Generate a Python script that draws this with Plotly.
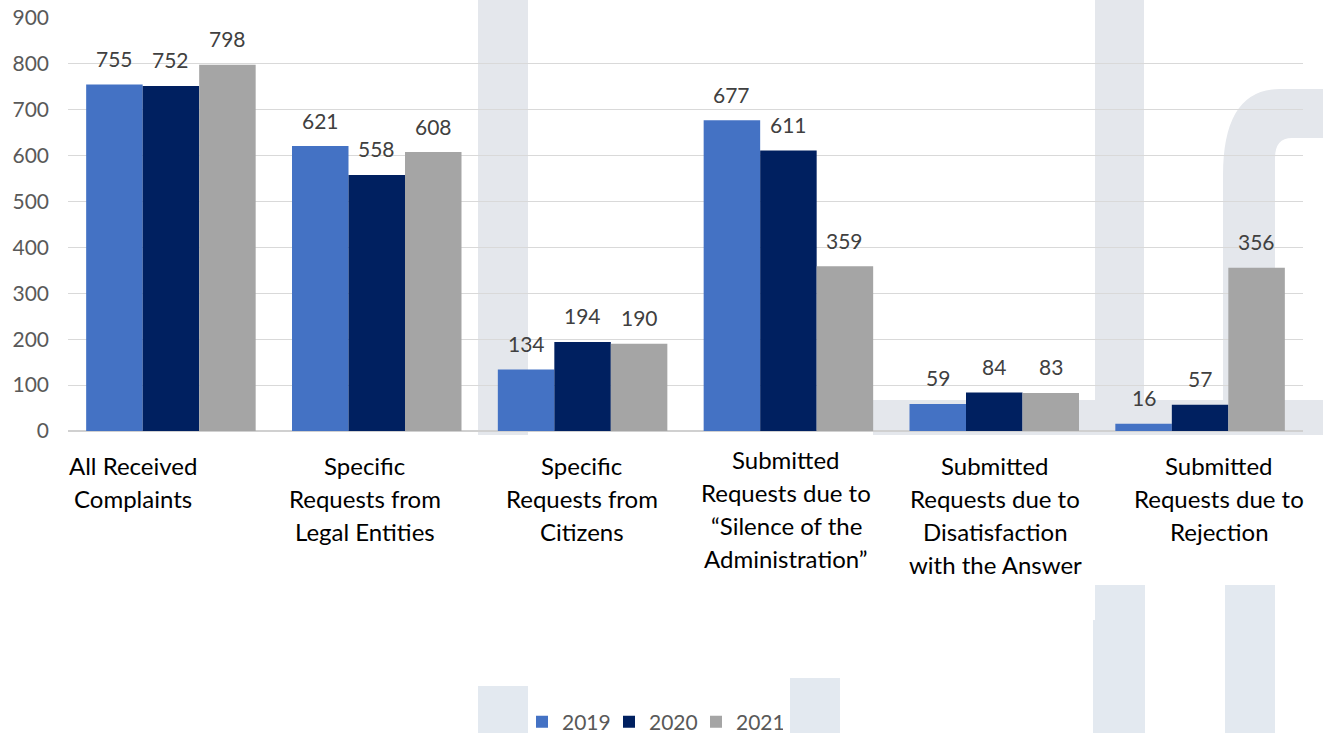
import plotly.graph_objects as go

# ---- data ----
categories = [
    "All Received<br>Complaints",
    "Specific<br>Requests from<br>Legal Entities",
    "Specific<br>Requests from<br>Citizens",
    "Submitted<br>Requests due to<br>“Silence of the<br>Administration”",
    "Submitted<br>Requests due to<br>Disatisfaction<br>with the Answer",
    "Submitted<br>Requests due to<br>Rejection",
]
years = ["2019", "2020", "2021"]
values_2019 = [755, 621, 134, 677, 59, 16]
values_2020 = [752, 558, 194, 611, 84, 57]
values_2021 = [798, 608, 190, 359, 83, 356]
y_ticks = [0, 100, 200, 300, 400, 500, 600, 700, 800, 900]

series = [values_2019, values_2020, values_2021]
colors = ["#4472C4", "#002060", "#A5A5A5"]

# ---- layout geometry (pixels) ----
W, H = 1323, 733
ML, MR, MT, MB = 68, 20, 18, 302
PW, PH = W - ML - MR, H - MT - MB
BARGAP = 0.1765
FONT = "Lato"

# horizontal nudges of the category captions, one per category
label_xshift = [-38, -12, -1, -2, 1, 19]


def px(x):
    return (x - ML) / PW


def py(y):
    return (H - MB - y) / PH


idx = list(range(len(categories)))
fig = go.Figure()
for name, vals, col in zip(years, series, colors):
    fig.add_trace(go.Bar(x=idx, y=vals, name=name, marker=dict(color=col, line=dict(width=0)),
                         hoverinfo="x+y"))

# background decoration
deco = "#E4E7EC"
deco_low = "#E3E9F0"
shapes = []
rects = [
    (478, 0, 528, 435, deco),
    (1095, 0, 1144, 400, deco),
    (873, 400, 1323, 435, deco),
    (478, 686, 528, 733, deco_low),
    (790, 678, 840, 733, deco_low),
    (1095, 585, 1145, 733, deco_low),
    (1093, 620, 1145, 733, deco_low),
    (1225, 585, 1275, 733, deco_low),
]
for x0, y0, x1, y1, c in rects:
    shapes.append(dict(type="rect", xref="paper", yref="paper", x0=px(x0), x1=px(x1),
                       y0=py(y1), y1=py(y0), fillcolor=c, line=dict(width=0), layer="below"))

r_path = (
    f"M{px(1223)},{py(400)} L{px(1223)},{py(175)} "
    f"Q{px(1223)},{py(89)} {px(1280)},{py(89)} "
    f"L{px(1323)},{py(89)} L{px(1323)},{py(138)} L{px(1292)},{py(138)} "
    f"Q{px(1275)},{py(138)} {px(1275)},{py(158)} "
    f"L{px(1275)},{py(400)} Z"
)
shapes.append(dict(type="path", xref="paper", yref="paper", path=r_path, fillcolor=deco,
                   line=dict(width=0), layer="below"))

annotations = []
# value labels above each bar
bw = (1 - BARGAP) / len(series)
for k, vals in enumerate(series):
    for i, v in enumerate(vals):
        annotations.append(dict(x=i + (k - 1) * bw, y=v, xref="x", yref="y", text=str(v),
                                showarrow=False, yanchor="middle", yshift=26,
                                font=dict(family=FONT, size=21, color="#404040")))

# category captions, one line at a time
line_step = 33.3
for i, cat in enumerate(categories):
    lines = cat.split("<br>")
    top = 459 if "Silence" in cat else 465
    for j, ln in enumerate(lines):
        annotations.append(dict(x=i, y=py(top + j * line_step), xref="x", yref="paper",
                                text=ln, showarrow=False, yanchor="middle",
                                xshift=label_xshift[i],
                                font=dict(family=FONT, size=24, color="#000000")))

fig.update_layout(
    width=W, height=H,
    margin=dict(l=ML, r=MR, t=MT, b=MB, autoexpand=False),
    paper_bgcolor="white", plot_bgcolor="rgba(0,0,0,0)",
    barmode="group", bargap=BARGAP, bargroupgap=0,
    font=dict(family=FONT, color="#595959"),
    shapes=shapes, annotations=annotations,
    showlegend=True,
    legend=dict(orientation="h", x=px(522), y=py(722), xanchor="left", yanchor="middle",
                font=dict(family=FONT, size=21, color="#595959"), itemwidth=30,
                entrywidth=42, entrywidthmode="pixels",
                bgcolor="rgba(0,0,0,0)"),
)
fig.update_xaxes(type="linear", range=[-0.5, len(categories) - 0.5], showticklabels=False,
                 showgrid=False, zeroline=False, showline=False, ticks="")
fig.update_yaxes(range=[0, 900], tickvals=y_ticks, showgrid=True, gridcolor="#D9D9D9",
                 gridwidth=1.3, zeroline=True, zerolinecolor="#D0D0D0", zerolinewidth=1.5,
                 showline=False, ticks="", ticklabelstandoff=18,
                 tickfont=dict(family=FONT, size=21, color="#595959"))

fig.write_html("out.html")
